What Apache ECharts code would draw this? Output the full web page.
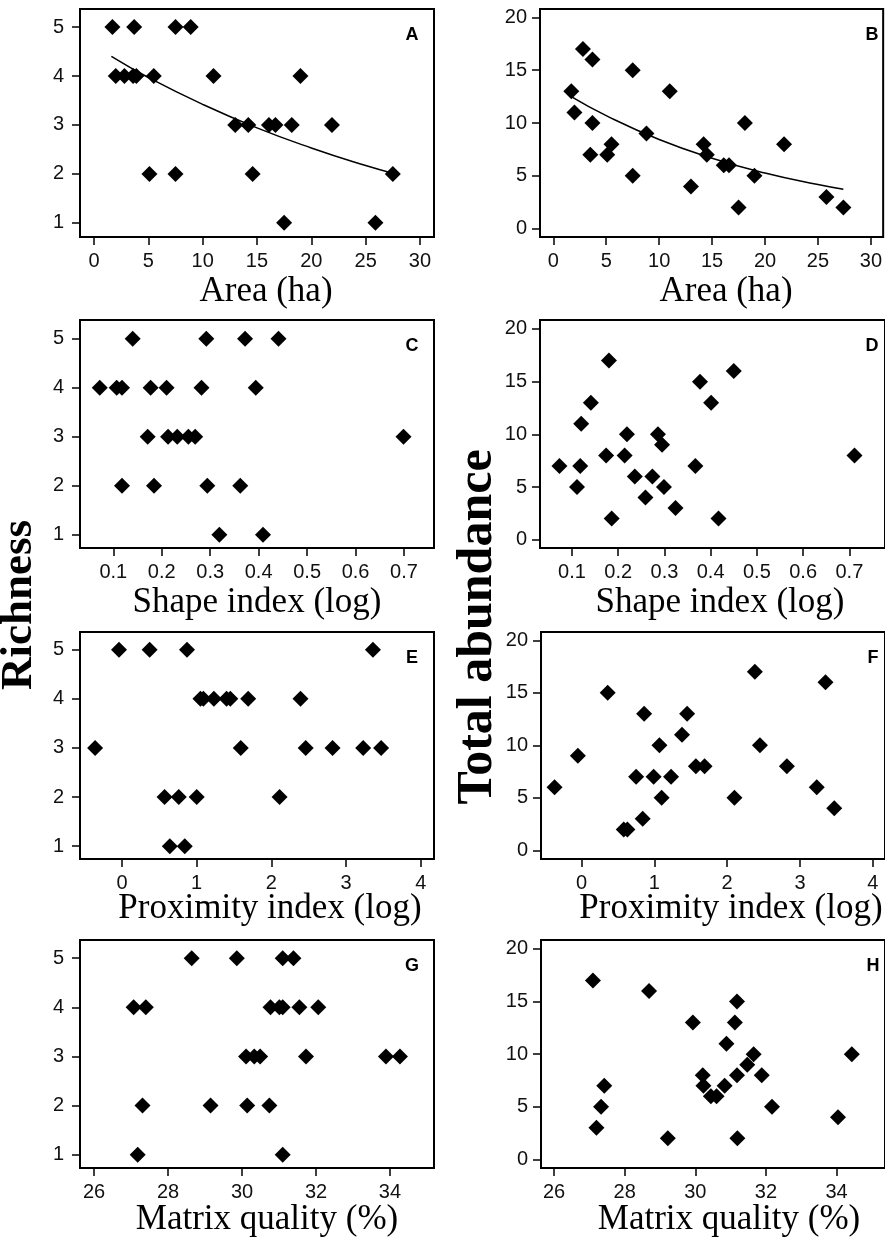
<!DOCTYPE html>
<html>
<head>
<meta charset="utf-8">
<script src="https://cdn.jsdelivr.net/npm/echarts@6/dist/echarts.min.js"></script>
<style>
html, body { margin: 0; background: #fff; }
#chart { width: 885px; height: 1237px; }
</style>
</head>
<body>
<div id="chart"></div>
<script>
// richness / abundance values, sorted high to low; x arrays follow the same order
var richY = [5,5,5,5, 4,4,4,4,4,4,4, 3,3,3,3,3,3, 2,2,2,2, 1,1];
var abundY = [17,16,15,13,13,11,10,10,9,8,8,8,7,7,7,6,6,5,5,4,3,2,2];

var areaRichX = [1.7,3.7,7.5,8.9, 2.0,2.8,3.6,3.9,5.5,11.0,19.0, 13.0,14.2,16.1,16.7,18.2,21.9, 5.1,7.5,14.6,27.5, 17.5,25.9];
var areaAbundX = [2.8,3.7,7.5,1.7,11.0,2.0,3.7,18.1,8.8,14.2,5.5,21.8,3.5,5.1,14.5,16.1,16.6,7.5,19.0,13.0,25.8,17.5,27.4];
var shapeRichX = [0.140,0.292,0.372,0.441, 0.072,0.107,0.118,0.177,0.210,0.282,0.394, 0.171,0.213,0.232,0.255,0.269,0.699, 0.118,0.184,0.294,0.362, 0.319,0.409];
var shapeAbundX = [0.180,0.450,0.377,0.141,0.401,0.120,0.219,0.286,0.295,0.174,0.214,0.711,0.073,0.118,0.367,0.236,0.274,0.111,0.299,0.259,0.324,0.186,0.417];
var proxRichX = [-0.04,0.37,0.87,3.36, 1.05,1.09,1.23,1.40,1.45,1.69,2.39, -0.36,1.59,2.46,2.82,3.23,3.47, 0.57,0.76,1.00,2.11, 0.64,0.84];
var proxAbundX = [2.38,3.35,0.36,0.86,1.45,1.38,1.07,2.45,-0.05,1.57,1.69,2.82,0.75,0.99,1.23,-0.37,3.23,1.10,2.10,3.47,0.84,0.58,0.63];
var matrixRichX = [28.64,29.86,31.10,31.39, 27.07,27.40,30.77,31.01,31.10,31.55,32.06, 30.11,30.33,30.49,31.73,33.89,34.27, 27.31,29.15,30.14,30.74, 27.18,31.10];
var matrixAbundX = [27.10,28.69,31.18,29.93,31.12,30.88,31.65,34.43,31.47,30.21,31.18,31.88,27.42,30.23,30.83,30.44,30.60,27.33,32.17,34.04,27.20,29.22,31.19];

var fitRichX = [1.6, 5, 10, 15, 20, 25, 27.4];
var fitRichY = [4.40, 3.97, 3.42, 2.94, 2.53, 2.17, 2.02];
var fitAbundX = [1.7, 5, 10, 15, 20, 25, 27.4];
var fitAbundY = [12.5, 10.7, 8.44, 6.67, 5.27, 4.17, 3.72];

var areaTicks = [0, 5, 10, 15, 20, 25, 30];
var shapeTicks = [0.1, 0.2, 0.3, 0.4, 0.5, 0.6, 0.7];
var proxTicks = [0, 1, 2, 3, 4];
var matrixTicks = [26, 28, 30, 32, 34];
var richTicks = [1, 2, 3, 4, 5];
var abundTicks = [0, 5, 10, 15, 20];

var panels = [
	{ letter: 'A', box: [80, 9, 354, 228], xr: [-1.288, 31.29], yr: [0.71, 5.37], xt: areaTicks, yt: richTicks, x: areaRichX, y: richY, fx: fitRichX, fy: fitRichY, name: 'Area (ha)', nx: 266, ny: 292 },
	{ letter: 'B', box: [540, 9, 354, 228], xr: [-1.255, 31.16], yr: [-0.79, 20.79], xt: areaTicks, yt: abundTicks, x: areaAbundX, y: abundY, fx: fitAbundX, fy: fitAbundY, name: 'Area (ha)', nx: 726, ny: 292 },
	{ letter: 'C', box: [80, 320, 354, 228], xr: [0.0313, 0.7619], yr: [0.73, 5.38], xt: shapeTicks, yt: richTicks, x: shapeRichX, y: richY, name: 'Shape index (log)', nx: 257, ny: 603 },
	{ letter: 'D', box: [540, 320, 354, 228], xr: [0.031, 0.777], yr: [-0.79, 20.85], xt: shapeTicks, yt: abundTicks, x: shapeAbundX, y: abundY, name: 'Shape index (log)', nx: 720, ny: 603 },
	{ letter: 'E', box: [80, 632, 354, 227], xr: [-0.5625, 4.178], yr: [0.74, 5.36], xt: proxTicks, yt: richTicks, x: proxRichX, y: richY, name: 'Proximity index (log)', nx: 270, ny: 909 },
	{ letter: 'F', box: [541, 632, 353, 227], xr: [-0.556, 4.167], yr: [-0.82, 20.79], xt: proxTicks, yt: abundTicks, x: proxAbundX, y: abundY, name: 'Proximity index (log)', nx: 731, ny: 909 },
	{ letter: 'G', box: [80, 940, 354, 228], xr: [25.62, 35.19], yr: [0.73, 5.37], xt: matrixTicks, yt: richTicks, x: matrixRichX, y: richY, name: 'Matrix quality (%)', nx: 267, ny: 1220 },
	{ letter: 'H', box: [541, 940, 353, 228], xr: [25.63, 35.37], yr: [-0.82, 20.85], xt: matrixTicks, yt: abundTicks, x: matrixAbundX, y: abundY, name: 'Matrix quality (%)', nx: 729, ny: 1220 }
];

var tickFont = { color: '#111', fontFamily: '"Liberation Sans", Arial, sans-serif', fontSize: 20 };
var serif = '"Liberation Serif", "Times New Roman", serif';

function zip(a, b) {
	var out = [];
	for (var i = 0; i < a.length; i++) out.push([a[i], b[i]]);
	return out;
}

var grid = [], xAxis = [], yAxis = [], series = [], graphic = [];

panels.forEach(function(p, i) {
	grid.push({
		left: p.box[0], top: p.box[1], width: p.box[2], height: p.box[3],
		show: true, borderColor: '#000', borderWidth: 2, backgroundColor: 'transparent'
	});
	xAxis.push({
		type: 'value', gridIndex: i, min: p.xr[0], max: p.xr[1], position: 'bottom',
		axisLine: { show: true, onZero: false, lineStyle: { color: '#000', width: 2 } },
		splitLine: { show: false },
		axisTick: { show: true, inside: false, length: 8, customValues: p.xt, lineStyle: { color: '#000', width: 1.5 } },
		axisLabel: Object.assign({ margin: 14, customValues: p.xt }, tickFont)
	});
	yAxis.push({
		type: 'value', gridIndex: i, min: p.yr[0], max: p.yr[1], position: 'left',
		axisLine: { show: true, onZero: false, lineStyle: { color: '#000', width: 2 } },
		splitLine: { show: false },
		axisTick: { show: true, inside: false, length: 8, customValues: p.yt, lineStyle: { color: '#000', width: 1.5 } },
		axisLabel: Object.assign({ margin: p.yt === richTicks ? 16 : 13, customValues: p.yt }, tickFont)
	});
	series.push({
		type: 'scatter', xAxisIndex: i, yAxisIndex: i,
		symbol: 'diamond', symbolSize: 16,
		itemStyle: { color: '#000', opacity: 1 },
		data: zip(p.x, p.y)
	});
	if (p.fx) {
		series.push({
			type: 'line', xAxisIndex: i, yAxisIndex: i,
			smooth: true, showSymbol: false, symbol: 'none',
			lineStyle: { color: '#000', width: 1.5 },
			data: zip(p.fx, p.fy)
		});
	}
	graphic.push({
		type: 'text', x: p.box[0] + 332, y: p.box[1] + 26,
		style: { text: p.letter, font: 'bold 18px "Liberation Sans", Arial, sans-serif', fill: '#000',
			align: 'center', verticalAlign: 'middle', textAlign: 'center', textVerticalAlign: 'middle' }
	});
	graphic.push({
		type: 'text', x: p.nx, y: p.ny,
		style: { text: p.name, font: '35px ' + serif, fill: '#000',
			align: 'center', verticalAlign: 'middle', textAlign: 'center', textVerticalAlign: 'middle' }
	});
});

graphic.push({
	type: 'text', x: 19, y: 605, rotation: Math.PI / 2,
	style: { text: 'Richness', font: 'bold 45px ' + serif, fill: '#000',
		align: 'center', verticalAlign: 'middle', textAlign: 'center', textVerticalAlign: 'middle' }
});
graphic.push({
	type: 'text', x: 478, y: 627, rotation: Math.PI / 2,
	style: { text: 'Total abundance', font: 'bold 50px ' + serif, fill: '#000',
		align: 'center', verticalAlign: 'middle', textAlign: 'center', textVerticalAlign: 'middle' }
});

var chart = echarts.init(document.getElementById('chart'));
chart.setOption({
	animation: false,
	backgroundColor: '#fff',
	grid: grid,
	xAxis: xAxis,
	yAxis: yAxis,
	series: series,
	graphic: graphic
});
</script>
</body>
</html>
